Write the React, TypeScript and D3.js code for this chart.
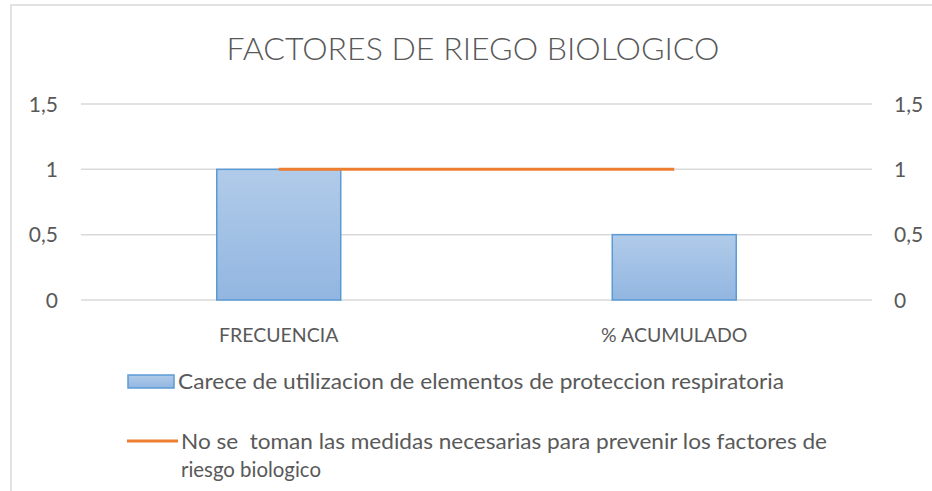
import React from "react";
import * as d3 from "d3";

const categories = ["FRECUENCIA", "% ACUMULADO"];
const barValues = [1, 0.5];
const lineValues = [1, 1];
const yTicks = [0, 0.5, 1, 1.5];
const barSeriesName = "Carece de utilizacion de elementos de proteccion respiratoria";
const lineSeriesName = [
  "No se  toman las medidas necesarias para prevenir los factores de",
  "riesgo biologico",
];
const title = "FACTORES DE RIEGO BIOLOGICO";

const width = 932;
const height = 491;
const font = "Lato, 'Open Sans', sans-serif";
const textColor = "#595959";

const fmt = (v: number) => String(v).replace(".", ",");

export default function App() {
  const x = d3.scaleBand<string>().domain(categories).range([81, 872]).padding(0);
  const y = d3.scaleLinear().domain([0, 1.5]).range([300, 104]);
  const gapWidth = 2.19;
  const barW = x.bandwidth() / (1 + gapWidth);
  const cx = (c: string) => (x(c) as number) + x.bandwidth() / 2;

  const line = d3
    .line<number>()
    .x((_, i) => cx(categories[i]))
    .y((d) => y(d));

  return (
    <svg
      width={width}
      height={height}
      style={{ position: "fixed", left: 0, top: 0, background: "#fff" }}
      fontFamily={font}
    >
      <defs>
        <linearGradient id="barGrad" x1="0" y1="0" x2="0" y2="1">
          <stop offset="0%" stopColor="#b1cbe9" />
          <stop offset="100%" stopColor="#92b6e1" />
        </linearGradient>
      </defs>
      <rect x={0} y={0} width={width} height={height} fill="#fff" />
      {/* chart area border, only left and top are visible */}
      <rect x={11} y={5} width={960} height={520} fill="none" stroke="#d9d9d9" strokeWidth={1.5} />

      <text
        x={473}
        y={60}
        textAnchor="middle"
        fontSize={31}
        fontWeight={300}
        fill={textColor}
        textLength={493}
        lengthAdjust="spacingAndGlyphs"
      >
        {title}
      </text>

      {/* gridlines */}
      {yTicks.map((t) => (
        <line key={t} x1={81} x2={872} y1={y(t)} y2={y(t)} stroke="#d9d9d9" strokeWidth={1.5} />
      ))}

      {/* left axis */}
      {yTicks.map((t) => (
        <text key={"l" + t} x={58} y={y(t)} dy="0.36em" textAnchor="end" fontSize={21} fill={textColor}>
          {fmt(t)}
        </text>
      ))}
      {/* right axis */}
      {yTicks.map((t) => (
        <text key={"r" + t} x={894} y={y(t)} dy="0.36em" textAnchor="start" fontSize={21} fill={textColor}>
          {fmt(t)}
        </text>
      ))}

      {/* bars */}
      {categories.map((c, i) => (
        <rect
          key={c}
          x={cx(c) - barW / 2}
          y={y(barValues[i])}
          width={barW}
          height={y(0) - y(barValues[i])}
          fill="url(#barGrad)"
          stroke="#5b9bd5"
          strokeWidth={1.5}
        />
      ))}

      {/* line series */}
      <path d={line(lineValues) || ""} fill="none" stroke="#ed7d31" strokeWidth={3} />

      {/* category labels */}
      {categories.map((c) => (
        <text key={"c" + c} x={cx(c)} y={342} textAnchor="middle" fontSize={19.5} fill={textColor}>
          {c}
        </text>
      ))}

      {/* legend */}
      <rect x={128} y={375} width={46} height={13} fill="url(#barGrad)" stroke="#5b9bd5" strokeWidth={1.5} />
      <text x={178} y={389} fontSize={22} fill={textColor} textLength={606} lengthAdjust="spacingAndGlyphs">
        {barSeriesName}
      </text>
      <line x1={127} x2={178} y1={441} y2={441} stroke="#ed7d31" strokeWidth={3} />
      <text x={181} y={449} fontSize={22} fill={textColor} textLength={646} lengthAdjust="spacingAndGlyphs" style={{ whiteSpace: "pre" }}>
        {lineSeriesName[0]}
      </text>
      <text x={181} y={477} fontSize={22} fill={textColor} textLength={140} lengthAdjust="spacingAndGlyphs">
        {lineSeriesName[1]}
      </text>
    </svg>
  );
}
